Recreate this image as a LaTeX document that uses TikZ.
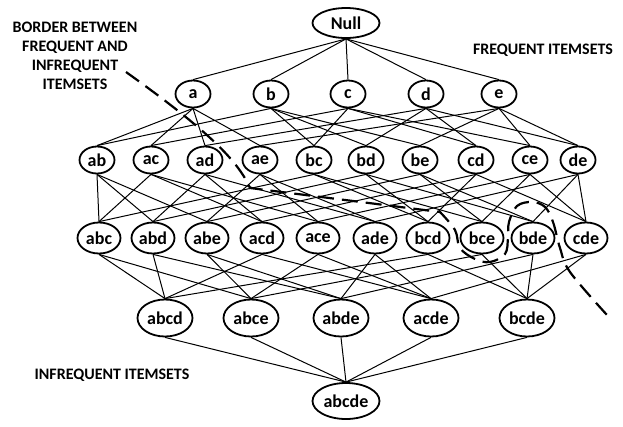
\documentclass[tikz,border=0pt]{standalone}
\usepackage{fontspec}
\setmainfont{Carlito}
\usepackage{tikz}
\usetikzlibrary{shapes.geometric}

\begin{document}
\begin{tikzpicture}[x=1pt, y=-1pt,
	set/.style={ellipse, draw, line width=1.8pt, inner sep=0pt, fill=white,
		font=\fontsize{18}{21}\selectfont\bfseries},
	one/.style={set, minimum width=35, minimum height=27},
	two/.style={set, minimum width=35, minimum height=27},
	three/.style={set, minimum width=43, minimum height=31},
	four/.style={set, minimum width=55, minimum height=37},
	note/.style={font=\fontsize{16}{19}\selectfont\bfseries, align=center},
	link/.style={line width=1pt},
	border/.style={line width=2.2pt, dash pattern=on 16pt off 8pt}]
	\useasboundingbox (0, 0) rectangle (623, 426);

	\node[set, minimum width=67, minimum height=30] (null) at (346, 23) {Null};

	\node[one] (a) at (193, 94) {a};
	\node[one] (b) at (271, 94) {b};
	\node[one] (c) at (348, 94) {c};
	\node[one] (d) at (426, 94) {d};
	\node[one] (e) at (499, 94) {e};

	\node[two] (ab) at (97, 160) {ab};
	\node[two] (ac) at (151, 160) {ac};
	\node[two] (ad) at (205, 160) {ad};
	\node[two] (ae) at (260, 160) {ae};
	\node[two] (bc) at (314, 160) {bc};
	\node[two] (bd) at (366, 160) {bd};
	\node[two] (be) at (420, 160) {be};
	\node[two] (cd) at (476, 160) {cd};
	\node[two] (ce) at (530, 160) {ce};
	\node[two] (de) at (578, 160) {de};

	\node[three] (abc) at (99, 238) {abc};
	\node[three] (abd) at (153, 238) {abd};
	\node[three] (abe) at (207, 238) {abe};
	\node[three] (acd) at (262, 238) {acd};
	\node[three] (ace) at (318, 238) {ace};
	\node[three] (ade) at (375, 238) {ade};
	\node[three] (bcd) at (428, 238) {bcd};
	\node[three] (bce) at (482, 238) {bce};
	\node[three] (bde) at (533, 238) {bde};
	\node[three] (cde) at (586, 238) {cde};

	\node[four] (abcd) at (165, 318) {abcd};
	\node[four] (abce) at (251, 318) {abce};
	\node[four] (abde) at (341, 318) {abde};
	\node[four] (acde) at (431, 318) {acde};
	\node[four] (bcde) at (527, 318) {bcde};

	\node[set, minimum width=67, minimum height=36] (abcde) at (346, 401) {abcde};

	% lattice links
	\draw[link] (null.south) edge (a.north) edge (b.north) edge (c.north) edge (d.north) edge (e.north);

	\draw[link] (a.south) edge (ab.north) edge (ac.north) edge (ad.north) edge (ae.north);
	\draw[link] (b.south) edge (ab.north) edge (bc.north) edge (bd.north) edge (be.north);
	\draw[link] (c.south) edge (ac.north) edge (bc.north) edge (cd.north) edge (ce.north);
	\draw[link] (d.south) edge (ad.north) edge (bd.north) edge (cd.north) edge (de.north);
	\draw[link] (e.south) edge (ae.north) edge (be.north) edge (ce.north) edge (de.north);

	\draw[link] (ab.south) edge (abc.north) edge (abd.north) edge (abe.north);
	\draw[link] (ac.south) edge (abc.north) edge (acd.north) edge (ace.north);
	\draw[link] (ad.south) edge (abd.north) edge (acd.north) edge (ade.north);
	\draw[link] (ae.south) edge (abe.north) edge (ace.north) edge (ade.north);
	\draw[link] (bc.south) edge (abc.north) edge (bcd.north) edge (bce.north);
	\draw[link] (bd.south) edge (abd.north) edge (bcd.north) edge (bde.north);
	\draw[link] (be.south) edge (abe.north) edge (bce.north) edge (bde.north);
	\draw[link] (cd.south) edge (acd.north) edge (bcd.north) edge (cde.north);
	\draw[link] (ce.south) edge (ace.north) edge (bce.north) edge (cde.north);
	\draw[link] (de.south) edge (ade.north) edge (bde.north) edge (cde.north);

	\draw[link] (abc.south) edge (abcd.north) edge (abce.north);
	\draw[link] (abd.south) edge (abcd.north) edge (abde.north);
	\draw[link] (abe.south) edge (abce.north) edge (abde.north);
	\draw[link] (acd.south) edge (abcd.north) edge (acde.north);
	\draw[link] (ace.south) edge (abce.north) edge (acde.north);
	\draw[link] (ade.south) edge (abde.north) edge (acde.north);
	\draw[link] (bcd.south) edge (abcd.north) edge (bcde.north);
	\draw[link] (bce.south) edge (abce.north) edge (bcde.north);
	\draw[link] (bde.south) edge (abde.north) edge (bcde.north);
	\draw[link] (cde.south) edge (acde.north) edge (bcde.north);

	\draw[link] (abcde.north) edge (abcd.south) edge (abce.south) edge (abde.south) edge (acde.south) edge (bcde.south);

	% border between the two parts
	\draw[border] (126, 72) .. controls (200, 125) and (237, 158) .. (250, 188) -- (440, 212)
		-- plot[smooth, tension=0.6] coordinates {(440, 212) (455, 230) (460, 248) (475, 259) (490, 262)
		(505, 254) (508, 238) (509, 222) (517, 206) (532, 202) (545, 207) (553, 222) (560, 248) (570, 272) (607, 315)};

	\node[note] (bordertext) at (75, 56) {BORDER BETWEEN\\FREQUENT AND\\INFREQUENT\\ITEMSETS};
	\node[note] (freqtext) at (543, 50) {FREQUENT ITEMSETS};
	\node[note] (infreqtext) at (112, 375) {INFREQUENT ITEMSETS};
\end{tikzpicture}
\end{document}
